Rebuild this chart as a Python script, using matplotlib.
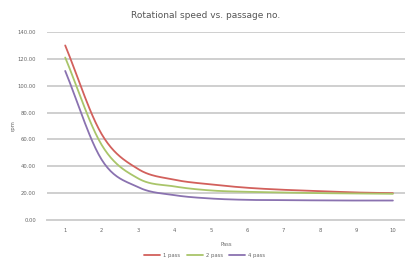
import numpy as np
import matplotlib
matplotlib.use("Agg")
import matplotlib.pyplot as plt

passes = [1, 2, 3, 4, 5, 6, 7, 8, 9, 10]
series_names = ["1 pass", "2 pass", "4 pass"]
rpm_1pass = [130, 64, 38, 30, 26.5, 24, 22.5, 21.5, 20.5, 20]
rpm_2pass = [121, 56, 31, 25, 22, 21, 20.5, 20, 19.8, 19.5]
rpm_4pass = [111, 45, 24.5, 18.5, 16, 15, 14.8, 14.6, 14.5, 14.5]
yticks = [0, 20, 40, 60, 80, 100, 120, 140]
colors = ["#d2605c", "#a9c56a", "#8a72b0"]


def smooth(x, y, n=24):
    x = np.asarray(x, float)
    y = np.asarray(y, float)
    px = np.concatenate([[2 * x[0] - x[1]], x, [2 * x[-1] - x[-2]]])
    py = np.concatenate([[2 * y[0] - y[1]], y, [2 * y[-1] - y[-2]]])
    xs, ys = [], []
    t = np.linspace(0, 1, n, endpoint=False)
    for i in range(1, len(px) - 2):
        p0, p1, p2, p3 = py[i - 1], py[i], py[i + 1], py[i + 2]
        q0, q1, q2, q3 = px[i - 1], px[i], px[i + 1], px[i + 2]
        for arr, a0, a1, a2, a3 in ((ys, p0, p1, p2, p3), (xs, q0, q1, q2, q3)):
            arr.extend(0.5 * ((2 * a1) + (-a0 + a2) * t
                              + (2 * a0 - 5 * a1 + 4 * a2 - a3) * t ** 2
                              + (-a0 + 3 * a1 - 3 * a2 + a3) * t ** 3))
    xs.append(x[-1])
    ys.append(y[-1])
    return np.array(xs), np.array(ys)


fig = plt.figure(figsize=(4.06, 2.66), dpi=100)
ax = fig.add_axes([47 / 406, 46 / 266, 1 - 47 / 406, (220 - 32) / 266])

for vals, c, name in zip([rpm_1pass, rpm_2pass, rpm_4pass], colors, series_names):
    sx, sy = smooth(passes, vals)
    ax.plot(sx, sy, color=c, lw=1.3, label=name, solid_capstyle="round")

ax.set_xlim(0.5, 10.36)
ax.set_ylim(0, 140)
ax.set_yticks(yticks)
ax.set_yticklabels([f"{v:.2f}" for v in yticks])
ax.set_xticks(passes)
ax.set_xticklabels([str(p) for p in passes])
ax.grid(axis="y", color="#cfcfcf", lw=1.4)
ax.set_axisbelow(True)
for s in ["top", "right", "left"]:
    ax.spines[s].set_visible(False)
ax.spines["bottom"].set_color("#cfcfcf")
ax.spines["bottom"].set_linewidth(1.4)
ax.tick_params(axis="y", length=0, labelsize=3.8, colors="#666666", pad=8)
ax.tick_params(axis="x", length=0, labelsize=3.8, colors="#666666", pad=6)

ax.set_ylabel("rpm", fontsize=3.8, color="#666666", labelpad=1)
ax.set_xlabel("Pass", fontsize=3.8, color="#666666", labelpad=6)
fig.text(206 / 406, 1 - 15 / 266, "Rotational speed vs. passage no.",
         ha="center", va="center", fontsize=6.5, color="#555555")
ax.legend(loc="center", bbox_to_anchor=(205 / 406, 1 - 255 / 266),
          bbox_transform=fig.transFigure, ncol=3, frameon=False,
          fontsize=3.8, handlelength=3, handletextpad=0.6,
          columnspacing=1.2, labelcolor="#666666")

fig.savefig("out.png", dpi=100)
